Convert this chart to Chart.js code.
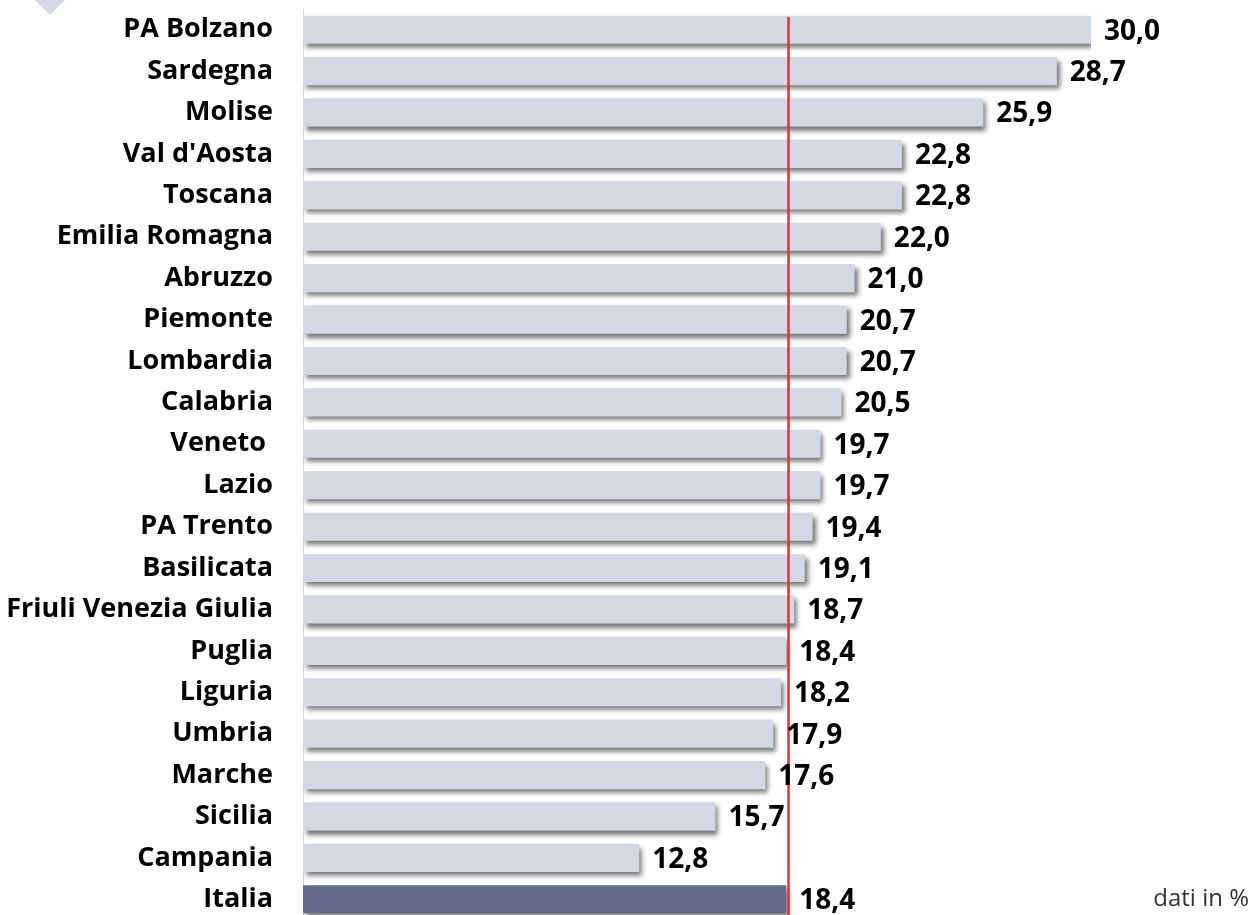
<!DOCTYPE html>
<html>
<head>
<meta charset="utf-8">
<script src="https://cdn.jsdelivr.net/npm/chart.js@4.4.1/dist/chart.umd.min.js"></script>
<style>
  html, body { margin: 0; padding: 0; background: #fff; overflow: hidden; }
  #wrap { position: relative; width: 1256px; height: 915px; overflow: hidden; }
  #box { position: absolute; left: 0; top: 0; width: 1256px; height: 931px; }
  #note { position: absolute; right: 7px; top: 880px; font: 24px "Open Sans", sans-serif; color: #333; }
</style>
</head>
<body>
<div id="wrap">
  <div id="box"><canvas id="graph"></canvas></div>
  <div id="note">dati in %</div>
</div>
<script>
const regioni = ["PA Bolzano", "Sardegna", "Molise", "Val d'Aosta", "Toscana", "Emilia Romagna",
  "Abruzzo", "Piemonte", "Lombardia", "Calabria", "Veneto ", "Lazio", "PA Trento", "Basilicata",
  "Friuli Venezia Giulia", "Puglia", "Liguria", "Umbria", "Marche", "Sicilia", "Campania", "Italia"];
const valori = [30.0, 28.7, 25.9, 22.8, 22.8, 22.0, 21.0, 20.7, 20.7, 20.5, 19.7, 19.7, 19.4, 19.1,
  18.7, 18.4, 18.2, 17.9, 17.6, 15.7, 12.8, 18.4];
const mediaItalia = 18.4;

const labelFont = 'bold 28px "Open Sans", sans-serif';

// shadow under the bars
const shadowPlugin = {
  id: 'barShadow',
  beforeDatasetsDraw(chart) {
    const c = chart.ctx;
    c.save();
    c.shadowColor = 'rgba(0,0,0,0.55)';
    c.shadowBlur = 5;
    c.shadowOffsetX = 3;
    c.shadowOffsetY = 4;
  },
  afterDatasetsDraw(chart) {
    chart.ctx.restore();
  }
};

// red line for the italian average + value labels + small triangle
const extrasPlugin = {
  id: 'extras',
  afterDatasetsDraw(chart) {
    const c = chart.ctx;
    const xs = chart.scales.x;
    const area = chart.chartArea;
    const xr = Math.round(xs.getPixelForValue(mediaItalia)) + 2.5;
    c.save();
    c.strokeStyle = '#ee2a30';
    c.lineWidth = 2.5;
    c.beginPath();
    c.moveTo(xr, area.top + 8);
    c.lineTo(xr, area.bottom);
    c.stroke();

    c.fillStyle = '#000';
    c.font = labelFont;
    c.textAlign = 'left';
    c.textBaseline = 'middle';
    chart.getDatasetMeta(0).data.forEach((bar, i) => {
      c.fillText(valori[i].toFixed(1).replace('.', ','), bar.x + 13, bar.y + 2);
    });

    c.fillStyle = '#d5d9e3';
    c.beginPath();
    c.moveTo(35, 0);
    c.lineTo(65, 0);
    c.lineTo(50, 15);
    c.closePath();
    c.fill();
    c.restore();
  }
};

const colori = regioni.map(r => r === 'Italia' ? '#636b8a' : '#d3d8e3');

const ctx = document.getElementById('graph').getContext('2d');
new Chart(ctx, {
  type: 'bar',
  data: {
    labels: regioni,
    datasets: [{
      data: valori,
      backgroundColor: colori,
      borderWidth: 0,
      categoryPercentage: 1,
      barPercentage: 0.68
    }]
  },
  options: {
    indexAxis: 'y',
    responsive: true,
    maintainAspectRatio: false,
    animation: false,
    layout: { padding: { top: 9, bottom: 11, left: 0, right: 165 } },
    plugins: {
      legend: { display: false },
      tooltip: { enabled: false }
    },
    scales: {
      x: {
        min: 0,
        max: 30,
        display: false
      },
      y: {
        grid: { display: false, drawTicks: false },
        border: { display: true, color: '#d9d9d9', width: 1 },
        ticks: {
          color: '#000',
          padding: 30,
          font: { family: '"Open Sans", sans-serif', size: 27, weight: 'bold' }
        },
        afterFit(scale) {
          scale.width = 303;
          scale.paddingTop = 0;
          scale.paddingBottom = 0;
        }
      }
    }
  },
  plugins: [shadowPlugin, extrasPlugin]
});
</script>
</body>
</html>
